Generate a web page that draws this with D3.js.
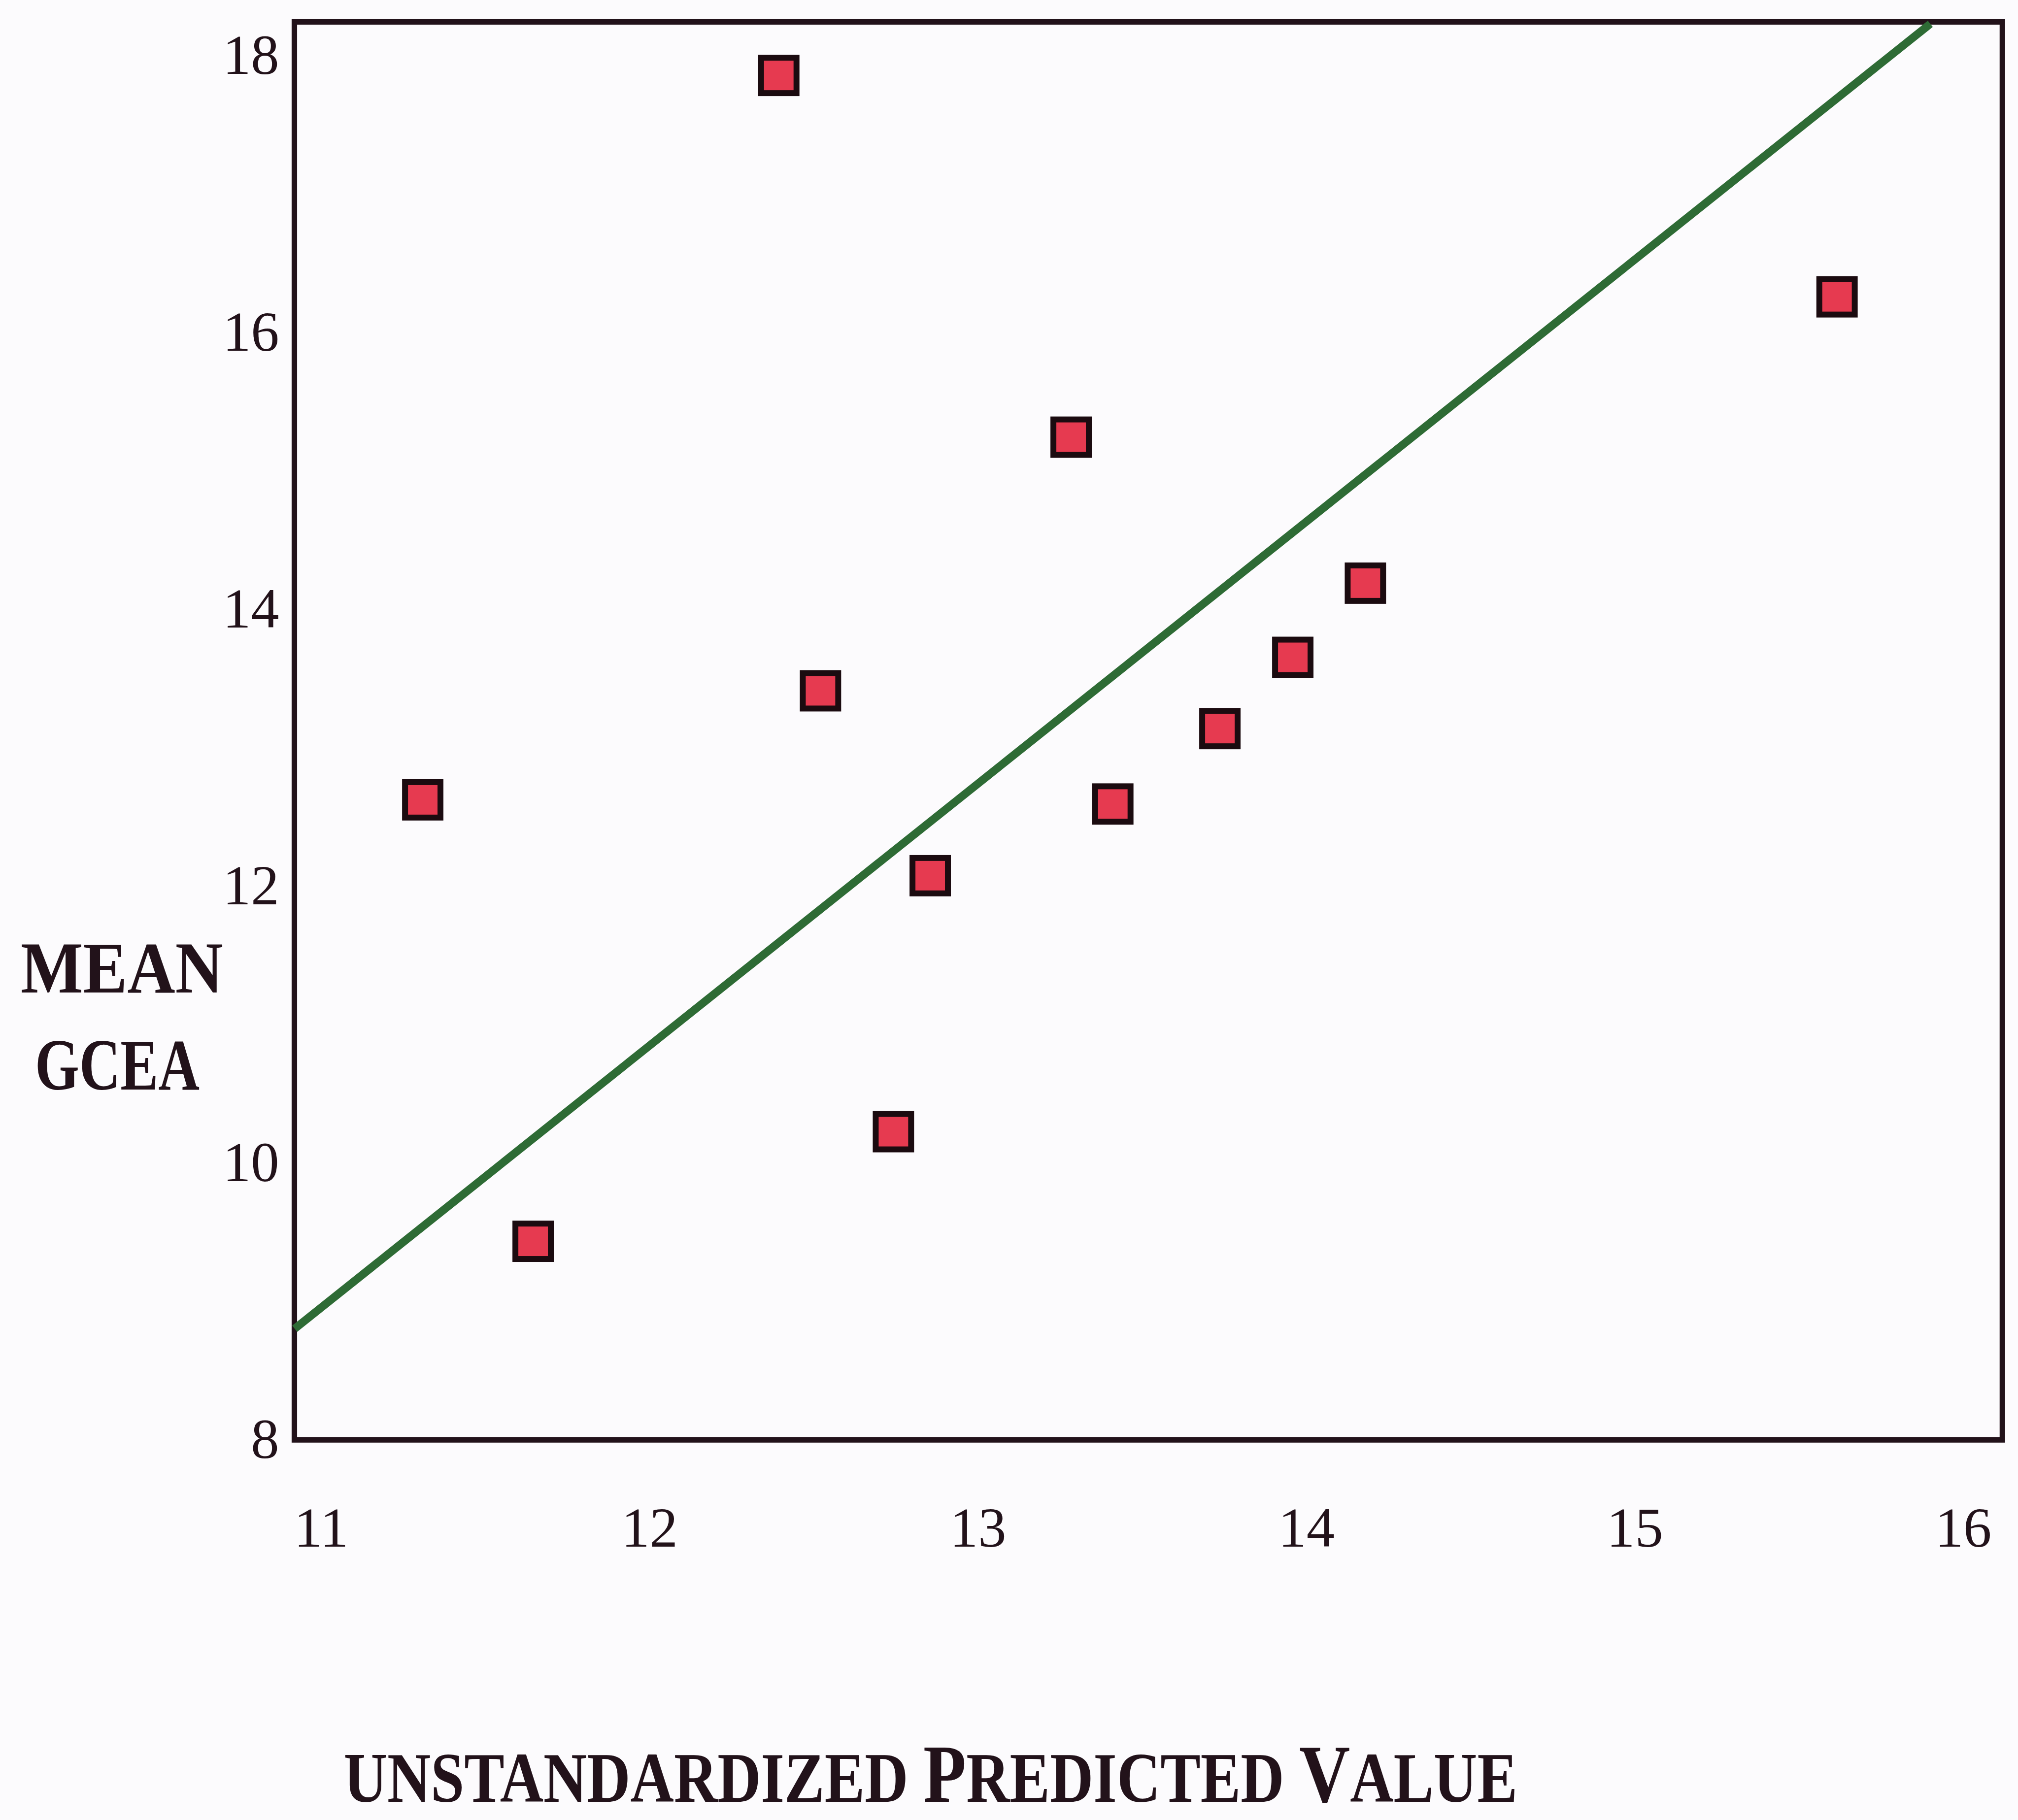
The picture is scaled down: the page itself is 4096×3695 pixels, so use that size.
<!DOCTYPE html>
<html>
<head>
    <meta charset="utf-8">
    <script src="https://d3js.org/d3.v7.min.js"></script>
    <style>
      html, body { margin: 0; padding: 0; background: #fcfbfd; }
    </style>
</head>
<body>
    <script>
      // values
      const predicted = [11.31, 11.646, 12.394, 12.521, 12.743, 12.855, 13.284, 13.411, 13.737, 13.959, 14.18, 15.616];
      const meanGcea  = [12.622, 9.432, 17.857, 13.41, 10.224, 12.074, 15.243, 12.592, 13.137, 13.652, 14.188, 16.257];

      // fitted line, start and end where it meets the frame
      const fitX = [10.92, 15.9];
      const fitY = [8.8, 18.23];

      const xTicks = [11, 12, 13, 14, 15, 16];
      const yTicks = [8, 10, 12, 14, 16, 18];

      const width = 4096,
          height = 3695,
          k = 0.856; // drawn in reference pixels, then shrunk

      // frame box (reference pixels)
      const frame = { left: 698, right: 4748, top: 52, bottom: 3415 };

      const svg = d3.select('body').append('svg')
          .attr('width', width)
          .attr('height', height);

      svg.append('rect')
          .attr('width', width)
          .attr('height', height)
          .attr('fill', '#fcfbfd');

      const g = svg.append('g')
          .attr('transform', `scale(${k})`);

      const x = d3.scaleLinear()
          .domain([11, 16])
          .range([761, 4655]);

      const y = d3.scaleLinear()
          .domain([8, 18])
          .range([3414, 132]);

      const ink = '#22121a';
      const serif = '"Liberation Serif", "Times New Roman", serif';

      // frame
      g.append('rect')
          .attr('x', frame.left)
          .attr('y', frame.top)
          .attr('width', frame.right - frame.left)
          .attr('height', frame.bottom - frame.top)
          .attr('fill', 'none')
          .attr('stroke', ink)
          .attr('stroke-width', 13);

      // axes, labels only
      const xAxis = g.append('g')
          .attr('transform', `translate(0, ${frame.bottom})`)
          .call(d3.axisBottom(x).tickValues(xTicks).tickSize(0).tickPadding(158).tickFormat(d3.format('d')));

      const yAxis = g.append('g')
          .attr('transform', `translate(${frame.left}, 0)`)
          .call(d3.axisLeft(y).tickValues(yTicks).tickSize(0).tickPadding(36).tickFormat(d3.format('d')));

      [xAxis, yAxis].forEach(ax => {
        ax.select('.domain').remove();
        ax.attr('font-family', serif)
          .attr('font-size', 134)
          .attr('color', ink);
      });

      // regression line
      const fitLine = d3.line()
          .x(d => x(d[0]))
          .y(d => y(d[1]));

      g.append('path')
          .datum(d3.zip(fitX, fitY))
          .attr('d', fitLine)
          .attr('fill', 'none')
          .attr('stroke', '#2e6b35')
          .attr('stroke-width', 19);

      // square markers
      const size = 84;
      g.selectAll('.pt')
          .data(d3.zip(predicted, meanGcea))
          .enter().append('rect')
          .attr('class', 'pt')
          .attr('x', d => x(d[0]) - size / 2)
          .attr('y', d => y(d[1]) - size / 2)
          .attr('width', size)
          .attr('height', size)
          .attr('fill', '#e63a50')
          .attr('stroke', '#1b0b10')
          .attr('stroke-width', 14);

      // y title, two lines
      g.append('text')
          .attr('x', 289)
          .attr('y', 2354)
          .attr('text-anchor', 'middle')
          .attr('font-family', serif)
          .attr('font-weight', 'bold')
          .attr('font-size', 172)
          .attr('fill', ink)
          .attr('textLength', 480)
          .attr('lengthAdjust', 'spacingAndGlyphs')
          .text('MEAN');

      g.append('text')
          .attr('x', 278)
          .attr('y', 2584)
          .attr('text-anchor', 'middle')
          .attr('font-family', serif)
          .attr('font-weight', 'bold')
          .attr('font-size', 172)
          .attr('fill', ink)
          .attr('textLength', 390)
          .attr('lengthAdjust', 'spacingAndGlyphs')
          .text('GCEA');

      // x title in small caps, squeezed sideways to the scanned width
      const titleBox = g.append('g');
      const xTitle = titleBox.append('text')
          .attr('font-family', serif)
          .attr('font-weight', 'bold')
          .attr('fill', ink);

      [['UNSTANDARDIZED ', 168], ['P', 196], ['REDICTED ', 168], ['V', 196], ['ALUE', 168]]
        .forEach(([t, fs]) => {
          xTitle.append('tspan')
              .attr('font-size', fs)
              .text(t);
        });

      const natural = xTitle.node().getComputedTextLength();
      titleBox.attr('transform', `translate(815, 4273) scale(${2783 / natural}, 1)`);
    </script>
</body>
</html>
